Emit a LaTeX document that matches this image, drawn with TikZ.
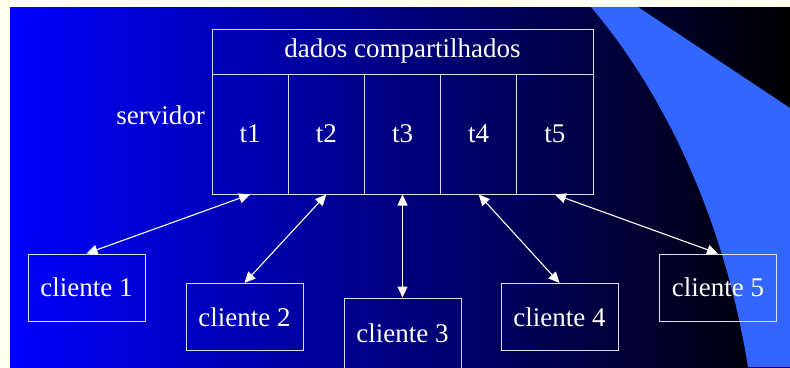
\documentclass[tikz,border=0pt]{standalone}
\usepackage{fontspec}
\setmainfont{Liberation Serif}
\usetikzlibrary{arrows.meta}
\definecolor{PageCream}{HTML}{FFFFF0}
\definecolor{DeepBlue}{HTML}{0000FF}
\definecolor{MidBlue}{HTML}{0000A8}
\definecolor{WaveBlue}{HTML}{3366FF}
\definecolor{EdgeGray}{HTML}{DCDCEE}

\begin{document}
\begin{tikzpicture}[x=1pt,y=-1pt,
    cell/.style={draw=EdgeGray, line width=1pt, text=white, inner sep=0pt,
      font=\fontsize{27}{32}\selectfont},
    thread/.style={cell, minimum width=76.2pt, minimum height=120pt},
    client/.style={cell, minimum width=117pt, minimum height=67pt},
    link/.style={draw=white, line width=1.1pt,
      {Triangle[length=11pt,width=10pt]}-{Triangle[length=11pt,width=10pt]}}
  ]
  \useasboundingbox (0,0) rectangle (790,367);
  % background
  \fill[PageCream] (0,0) rectangle (790,367);
  \shade[left color=DeepBlue, middle color=MidBlue, right color=black]
    (10,7) rectangle (790,367);
  \fill[WaveBlue] (591,7) .. controls (655,82) and (722,205) .. (748,367)
    -- (790,367) -- (790,108) -- (638,7) -- cycle;

  % servidor
  \node[cell, minimum width=381pt, minimum height=45pt] (shared) at (402.5,51.5)
    {dados compartilhados};
  \node[thread] (t1) at (250.1,134) {t1};
  \node[thread] (t2) at (326.3,134) {t2};
  \node[thread] (t3) at (402.5,134) {t3};
  \node[thread] (t4) at (478.7,134) {t4};
  \node[thread] (t5) at (554.9,134) {t5};
  \node[text=white, inner sep=0pt, anchor=east, font=\fontsize{27}{32}\selectfont]
    (server) at (205,115) {servidor};

  % clientes
  \node[client] (c1) at (86.5,287.5) {cliente 1};
  \node[client] (c2) at (244.5,317) {cliente 2};
  \node[client, minimum height=70pt] (c3) at (402.5,333) {cliente 3};
  \node[client] (c4) at (559.5,317) {cliente 4};
  \node[client] (c5) at (718,287.5) {cliente 5};

  \draw[link] (t1.south) -- (c1.north);
  \draw[link] (t2.south) -- (c2.north);
  \draw[link] (t3.south) -- (c3.north);
  \draw[link] (t4.south) -- (c4.north);
  \draw[link] (t5.south) -- (c5.north);
\end{tikzpicture}
\end{document}
